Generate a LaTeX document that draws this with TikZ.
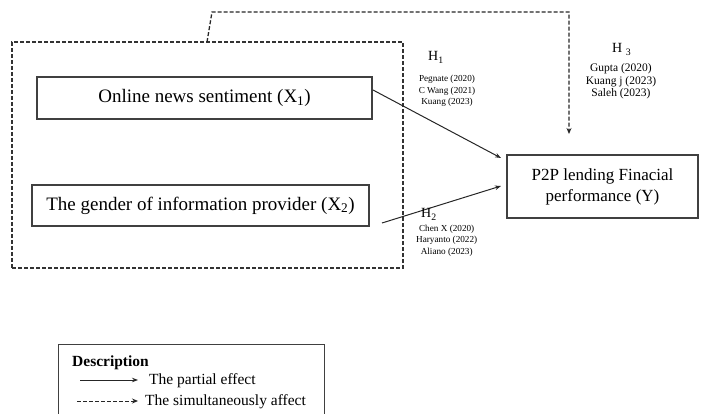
\documentclass[tikz,border=0pt]{standalone}
\usepackage{fontspec}
\setmainfont{Liberation Serif}
\usetikzlibrary{arrows.meta,calc}
\begin{document}
\begin{tikzpicture}[x=1pt,y=-1pt,
  varbox/.style={draw=black!75, line width=1.1pt, inner sep=0pt, font=\fontsize{19}{22}\selectfont},
  grpbox/.style={draw=black!80, line width=1.2pt, dash pattern=on 4pt off 2pt, inner sep=0pt},
  partial/.style={draw=black!85, line width=1pt, -{Stealth[length=6pt,width=4.5pt]}},
  simult/.style={draw=black!85, line width=1.3pt, dash pattern=on 4pt off 2pt, -{Stealth[length=6pt,width=5pt]}},
  hlab/.style={font=\fontsize{14}{16}\selectfont, inner sep=0pt},
  cite/.style={font=\fontsize{9.2}{11.6}\selectfont, align=center, inner sep=0pt},
  citebig/.style={font=\fontsize{11.5}{12.5}\selectfont, align=center, inner sep=0pt},
  legtext/.style={font=\fontsize{15.5}{18}\selectfont, anchor=base west, inner sep=0pt}
]
\useasboundingbox (0,0) rectangle (715,414);

% group rectangle
\node[grpbox, minimum width=391pt, minimum height=226pt] (grp) at (207.5,155) {};

% variable boxes
\node[varbox, minimum width=335pt, minimum height=42pt] (x1) at (204.5,98) {Online news sentiment (X\textsubscript{1})};
\node[varbox, minimum width=337pt, minimum height=41pt] (x2) at (200.5,205.5) {The gender of information provider (X\textsubscript{2})};
\node[varbox, minimum width=191pt, minimum height=63pt, align=center, font=\fontsize{17}{21}\selectfont] (y) at (602.5,186.5) {P2P lending Finacial\\performance (Y)};

% connectors
\coordinate (x1s) at (373,90);
\coordinate (x1e) at (501,158);
\coordinate (x2s) at (382,223);
\coordinate (x2e) at (501,186);
\draw[partial] (x1s) -- (x1e);
\draw[partial] (x2s) -- (x2e);

\coordinate (gs) at (207,42);
\coordinate (ge) at (569,134);
\draw[simult] (gs) -- (212,12) -- (569,12) -- (ge);

% hypothesis labels
\node[hlab, anchor=base west] (h1) at (428,61) {H\textsubscript{1}};
\node[cite, anchor=base] (c1) at (447,105) {Pegnate (2020)\\C Wang (2021)\\Kuang (2023)};

\node[hlab, anchor=base west] (h3) at (612,53) {H \textsubscript{3}};
\node[citebig, anchor=base] (c3) at (621,97) {Gupta (2020)\\Kuang j (2023)\\Saleh (2023)};

\node[hlab, anchor=base west] (h2) at (421,218) {H\textsubscript{2}};
\node[cite, anchor=base] (c2) at (446.7,254.5) {Chen X (2020)\\Haryanto (2022)\\Aliano (2023)};

% legend
\draw[draw=black!75, line width=1pt] (58,420) -- (58,344) -- (324,344) -- (324,420);
\node[legtext, font=\fontsize{15.5}{18}\selectfont\bfseries] (ld) at (72,366) {Description};
\coordinate (l1s) at (80,380);
\coordinate (l1e) at (138,380);
\draw[partial] (l1s) -- (l1e);
\node[legtext] (lt1) at (149,384) {The partial effect};
\coordinate (l2s) at (77,401);
\coordinate (l2e) at (138,401);
\draw[simult, line width=1pt] (l2s) -- (l2e);
\node[legtext] (lt2) at (145,405.5) {The simultaneously affect};
\end{tikzpicture}
\end{document}
